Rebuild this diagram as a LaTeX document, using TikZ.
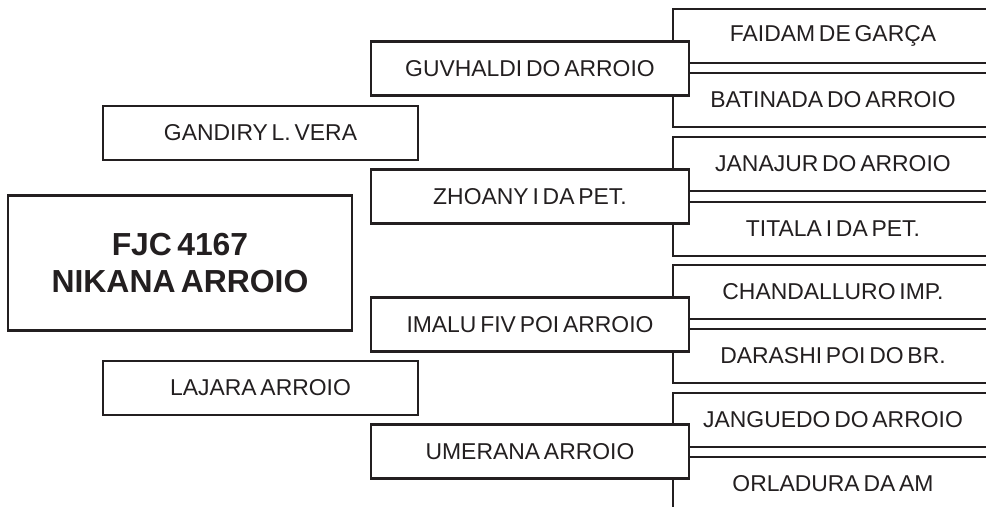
\documentclass[tikz,border=0pt]{standalone}
\usepackage{fontspec}
\setmainfont{Liberation Sans}[WordSpace=0.6]
\usepackage{tikz}
\definecolor{inkGray}{RGB}{35,31,32}

\begin{document}
\begin{tikzpicture}[x=1bp, y=-1bp,
        box/.style={draw=inkGray, line width=2.4bp, fill=white, inner sep=0pt,
          text=inkGray, font=\fontsize{23}{27}\selectfont},
        horse/.style={box, minimum width=344bp, minimum height=135bp, align=center,
          font=\bfseries\fontsize{32}{37}\selectfont},
        parent/.style={box, minimum width=315bp, minimum height=54bp},
        grand/.style={box, minimum width=318bp, minimum height=54bp},
        great/.style={box, minimum width=320bp, minimum height=54bp}
      ]
        \clip (0,0) rectangle (986,507);
        \useasboundingbox (0,0) rectangle (986,507);

        % Great-grandparents (open to the right)
        \node[great] (ggA) at (833,36)  {FAIDAM DE GARÇA};
        \node[great] (ggB) at (833,100) {BATINADA DO ARROIO};
        \node[great] (ggC) at (833,164) {JANAJUR DO ARROIO};
        \node[great] (ggD) at (833,229) {TITALA I DA PET.};
        \node[great] (ggE) at (833,292) {CHANDALLURO IMP.};
        \node[great] (ggF) at (833,356) {DARASHI POI DO BR.};
        \node[great] (ggG) at (833,420) {JANGUEDO DO ARROIO};
        \node[great] (ggH) at (833,484) {ORLADURA DA AM};
        \draw[inkGray, line width=2.4bp] (ggH.south west) -- ++(0,30);

        % Grandparents
        \node[grand] (gA) at (530,68.5)  {GUVHALDI DO ARROIO};
        \node[grand] (gB) at (530,196.5) {ZHOANY I DA PET.};
        \node[grand] (gC) at (530,324.5) {IMALU FIV POI ARROIO};
        \node[grand] (gD) at (530,451.5) {UMERANA ARROIO};

        % Parents
        \node[parent] (sire) at (260.5,133) {GANDIRY L. VERA};
        \node[parent] (dam)  at (260.5,388) {LAJARA ARROIO};

        % Subject
        \node[horse] (main) at (180,263) {FJC 4167\\NIKANA ARROIO};
      \end{tikzpicture}
\end{document}
